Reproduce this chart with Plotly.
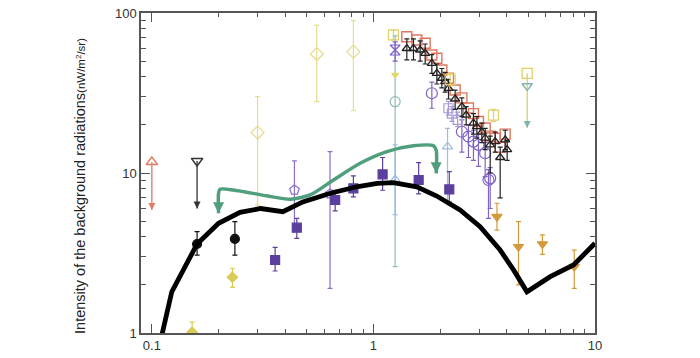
import plotly.graph_objects as go

# ---- model curve (thick black) ----
model_x = [0.1094, 0.1115, 0.123, 0.16, 0.2, 0.25, 0.31, 0.39, 0.48, 0.64, 0.84, 1.04, 1.23, 1.57, 1.93, 2.46, 3.03, 3.73, 4.29, 4.93, 6.28, 8.0, 10.0]
model_y = [0.89, 1.0, 1.81, 3.6, 4.85, 5.68, 6.0, 5.73, 6.6, 7.47, 8.2, 8.62, 8.7, 8.2, 7.18, 5.87, 4.62, 3.3, 2.48, 1.81, 2.25, 2.66, 3.64]

# ---- green upper-bound curve ----
green_x = [0.2, 0.2, 0.203, 0.233, 0.33, 0.421, 0.518, 0.66, 0.871, 1.15, 1.516, 1.866, 1.92, 1.92]
green_y = [5.6, 7.47, 7.91, 7.83, 7.2, 6.85, 7.29, 9.04, 11.5, 13.6, 14.8, 14.8, 13.9, 9.95]
green_tip_x = [0.2, 1.92]
green_tip_y = [5.6, 9.95]

# ---- upper limits (marker value, arrow tip) ----
ul_red_x, ul_red_y, ul_red_tip = [0.1], [11.7], [5.87]
ul_gray_x, ul_gray_y, ul_gray_tip = [0.16], [11.9], [6.0]
ul_far_x, ul_far_sq, ul_far_tri, ul_far_tip = [4.943], [41.9], [35.0], [19.1]

# ---- black filled circles ----
bk_x = [0.16, 0.237]
bk_y = [3.6, 3.87]
bk_hi = [4.3, 4.96]
bk_lo = [3.07, 3.07]

# ---- yellow filled diamonds ----
yd_x = [0.152, 0.231]
yd_y = [1.01, 2.23]
yd_hi = [1.17, 2.54]
yd_lo = [0.9, 1.93]

# ---- pale open diamonds ----
pd_x = [0.30, 0.555, 0.812]
pd_y = [17.9, 55.4, 57.3]
pd_hi = [30, 84, 89.5]
pd_lo = [6.3, 27.9, 24.5]

# ---- purple filled squares ----
ps_x = [0.36, 0.451, 0.672, 0.812, 1.10, 1.6, 2.2]
ps_y = [2.86, 4.55, 6.78, 8.02, 9.8, 9.04, 7.9]
ps_hi = [3.43, 5.2, 7.8, 9.6, 12.5, 11.6, 10.2]
ps_lo = [2.44, 3.9, 5.8, 7.1, 7.8, 7.4, 6.6]

# ---- purple open pentagons ----
po_x = [0.44, 0.637]
po_y = [7.83, 7.4]
po_hi = [11.9, 13.6]
po_lo = [4.3, 1.9]

# ---- purple open circles ----
pc_x = [1.835, 2.507, 2.685, 2.828, 2.979, 3.194, 3.306, 3.365]
pc_y = [31.5, 18.1, 16.9, 15.7, 15.0, 13.3, 9.04, 9.26]
pc_hi = [37, 21.5, 20, 18.5, 17.5, 15.5, 10.5, 10.8]
pc_lo = [25.4, 13.5, 12.5, 12.0, 11.0, 9.5, 5.2, 6.0]

# ---- lavender open squares ----
lv_x = [2.18, 2.26, 2.40]
lv_y = [25.4, 23.5, 21.5]
lv_hi = [28, 26, 24]
lv_lo = [23, 21, 19.5]

# ---- light-blue open triangles ----
lb_x = [1.253, 2.16]
lb_y = [9.1, 14.6]
lb_hi = [15, 19]
lb_lo = [5.5, 6.5]

# ---- teal open circle ----
tc_x = [1.253]
tc_y = [27.9]
tc_hi = [72]
tc_lo = [2.6]

# ---- purple hourglass ----
hg_x = [1.253]
hg_y = [58.7]
hg_hi = [66]
hg_lo = [50]

# ---- small yellow marker ----
sy_x = [1.253]
sy_y = [41.0]

# ---- yellow open squares ----
ys_x = [1.231, 2.22, 3.482]
ys_y = [72.9, 38.5, 23.0]
ys_hi = [78, 42, 25]
ys_lo = [68, 35, 21]

# ---- black open triangles ----
bt_x = [1.415, 1.516, 1.625, 1.712, 1.835, 1.933, 2.036, 2.107, 2.182, 2.338, 2.507, 2.622, 2.828, 2.930, 3.086, 3.194, 3.365, 3.544, 3.733, 3.932, 4.014]
bt_y = [60, 60, 58.7, 56, 48.5, 42, 39.1, 37.2, 33.8, 29, 26, 23, 20.5, 19.5, 18, 16.5, 15, 15.7, 12.5, 16.1, 14]
bt_hi = [69, 69, 67, 64, 55, 48, 45, 42.5, 38.5, 33, 29.5, 26, 23.5, 22.5, 20.5, 19, 17, 18, 14.5, 18.5, 16]
bt_lo = [51, 51, 50, 48, 42, 36, 34, 32, 29, 25, 22.5, 20, 17.5, 16.5, 15.5, 14, 10, 13.5, 7, 14, 12]

# ---- red open squares ----
rs_x = [1.415, 1.570, 1.712, 1.835, 1.933, 2.036, 2.182, 2.338, 2.507, 2.685, 2.828, 2.979, 3.194, 3.365, 3.544, 3.733, 3.932]
rs_y = [71, 67.8, 64.7, 54.6, 52.1, 44, 39.1, 33, 29.5, 25.5, 23.5, 21, 19.1, 17, 16.5, 14.5, 17.5]

# ---- golden filled triangles-down ----
gt_x = [3.61, 4.515, 5.79, 8.06]
gt_y = [5.33, 3.46, 3.6, 2.6]
gt_hi = [6.47, 4.96, 4.1, 3.3]
gt_lo = [4.4, 2.0, 3.1, 1.9]

x_major = [0.1, 1, 10]
x_major_text = ["0.1", "1", "10"]
x_minor = [0.2, 0.3, 0.4, 0.5, 0.6, 0.7, 0.8, 0.9, 2, 3, 4, 5, 6, 7, 8, 9]
y_major = [1, 10, 100]
y_major_text = ["1", "10", "100"]
y_minor = [2, 3, 4, 5, 6, 7, 8, 9, 20, 30, 40, 50, 60, 70, 80, 90]

fig = go.Figure()


def err(y, hi, lo, color):
    return dict(type="data", symmetric=False,
                array=[h - v for h, v in zip(hi, y)],
                arrayminus=[v - l for v, l in zip(y, lo)],
                color=color, thickness=1.2, width=2.5)


def pts(x, y, hi, lo, color, symbol, size, lw=1.2):
    kw = dict(x=x, y=y, mode="markers", showlegend=False, hoverinfo="skip",
              marker=dict(symbol=symbol, size=size, color=color,
                          line=dict(color=color, width=lw)))
    if hi is not None:
        kw["error_y"] = err(y, hi, lo, color)
    fig.add_trace(go.Scatter(**kw))


def uplim(x, y, tip, color, symbol):
    for xi, yi, ti in zip(x, y, tip):
        fig.add_trace(go.Scatter(x=[xi, xi], y=[yi, ti], mode="lines",
                                 line=dict(color=color, width=1.3),
                                 showlegend=False, hoverinfo="skip"))
    fig.add_trace(go.Scatter(x=x, y=tip, mode="markers", showlegend=False, hoverinfo="skip",
                             marker=dict(symbol="arrow-down", size=7, color=color,
                                         line=dict(width=0))))
    fig.add_trace(go.Scatter(x=x, y=y, mode="markers", showlegend=False, hoverinfo="skip",
                             marker=dict(symbol=symbol, size=10, color=color,
                                         line=dict(color=color, width=1.5))))


# pale diamonds
pts(pd_x, pd_y, pd_hi, pd_lo, "#e6dc8c", "diamond-open", 10)
# teal circle with long bar
pts(tc_x, tc_y, tc_hi, tc_lo, "#8fbcb8", "circle-open", 10)
# light-blue triangles
pts(lb_x, lb_y, lb_hi, lb_lo, "#9dbde0", "triangle-up-open", 9)
# purple open pentagons
pts(po_x, po_y, po_hi, po_lo, "#8a70c8", "pentagon-open", 10)
# purple filled squares
pts(ps_x, ps_y, ps_hi, ps_lo, "#5b3f9e", "square", 9)
# yellow filled diamonds
pts(yd_x, yd_y, yd_hi, yd_lo, "#d8cc55", "diamond", 8)
# black circles
pts(bk_x, bk_y, bk_hi, bk_lo, "#111111", "circle", 9)
# golden triangles-down
pts(gt_x, gt_y, gt_hi, gt_lo, "#d39a3c", "triangle-down", 9)
# purple open circles
pts(pc_x, pc_y, pc_hi, pc_lo, "#8064c4", "circle-open", 11)
# lavender squares
pts(lv_x, lv_y, lv_hi, lv_lo, "#a89ad8", "square-open", 9)
# purple hourglass
pts(hg_x, hg_y, hg_hi, hg_lo, "#7c5cc4", "hourglass-open", 10)
# small yellow marker
pts(sy_x, sy_y, None, None, "#e6d66a", "triangle-down", 6)
# red squares
pts(rs_x, rs_y, None, None, "#e0765e", "square-open", 10, lw=1.4)
# black triangles
pts(bt_x, bt_y, bt_hi, bt_lo, "#222222", "triangle-up-open", 8, lw=1.3)
# yellow squares
pts(ys_x, ys_y, ys_hi, ys_lo, "#e2cf6a", "square-open", 10)

# upper limits
uplim(ul_red_x, ul_red_y, ul_red_tip, "#e07a62", "triangle-up-open")
uplim(ul_gray_x, ul_gray_y, ul_gray_tip, "#333333", "triangle-down-open")
for xi, ys, yt, ti in zip(ul_far_x, ul_far_sq, ul_far_tri, ul_far_tip):
    fig.add_trace(go.Scatter(x=[xi, xi], y=[ys, ti], mode="lines",
                             line=dict(color="#d8cf78", width=1.3),
                             showlegend=False, hoverinfo="skip"))
fig.add_trace(go.Scatter(x=ul_far_x, y=ul_far_tip, mode="markers", showlegend=False, hoverinfo="skip",
                         marker=dict(symbol="arrow-down", size=7, color="#7fb3b0", line=dict(width=0))))
fig.add_trace(go.Scatter(x=ul_far_x, y=ul_far_tri, mode="markers", showlegend=False, hoverinfo="skip",
                         marker=dict(symbol="triangle-down-open", size=9, color="#7fb3b0",
                                     line=dict(color="#7fb3b0", width=1.4))))
fig.add_trace(go.Scatter(x=ul_far_x, y=ul_far_sq, mode="markers", showlegend=False, hoverinfo="skip",
                         marker=dict(symbol="square-open", size=10, color="#e2cf6a",
                                     line=dict(color="#e2cf6a", width=1.3))))

# green curve
fig.add_trace(go.Scatter(x=green_x, y=green_y, mode="lines", line_shape="spline",
                         line=dict(color="#4f9e7c", width=3.5, smoothing=0.7),
                         showlegend=False, hoverinfo="skip"))
fig.add_trace(go.Scatter(x=green_tip_x, y=green_tip_y, mode="markers", showlegend=False, hoverinfo="skip",
                         marker=dict(symbol="arrow-down", size=11, color="#4f9e7c", line=dict(width=0))))

# model curve
fig.add_trace(go.Scatter(x=model_x, y=model_y, mode="lines",
                         line=dict(color="#000000", width=4.8),
                         showlegend=False, hoverinfo="skip"))

axis_common = dict(type="log", showline=True, linecolor="#555555", linewidth=1.5,
                   mirror="allticks", ticks="inside", ticklen=9, tickwidth=1.2,
                   tickcolor="#555555", showgrid=False, zeroline=False, automargin=False,
                   ticklabeloverflow="allow",
                   tickfont=dict(family="Liberation Sans, Arial, sans-serif", size=13, color="#333333"))

fig.update_xaxes(range=[-1.049, 1.0], tickvals=x_major, ticktext=x_major_text,
                 minor=dict(tickvals=x_minor, ticks="inside", ticklen=4, tickwidth=1.2,
                            tickcolor="#555555", showgrid=False),
                 **axis_common)
fig.update_yaxes(range=[0, 2], tickvals=y_major, ticktext=y_major_text,
                 minor=dict(tickvals=y_minor, ticks="inside", ticklen=5, tickwidth=1.2,
                            tickcolor="#555555", showgrid=False),
                 **axis_common)

fig.add_annotation(xref="paper", yref="paper", x=-0.134, y=0.46, xanchor="center", yanchor="middle",
                   textangle=-90, showarrow=False,
                   text="Intensity of the background radiations<span style='font-size:11.5px'>(nW/m<sup>2</sup>/sr)</span>",
                   font=dict(family="Liberation Sans, Arial, sans-serif", size=14.5, color="#222222"))

fig.update_layout(width=700, height=358, margin=dict(l=133, r=113, t=5, b=33, autoexpand=False),
                  paper_bgcolor="white", plot_bgcolor="white", showlegend=False)

fig.write_html("out.html")
